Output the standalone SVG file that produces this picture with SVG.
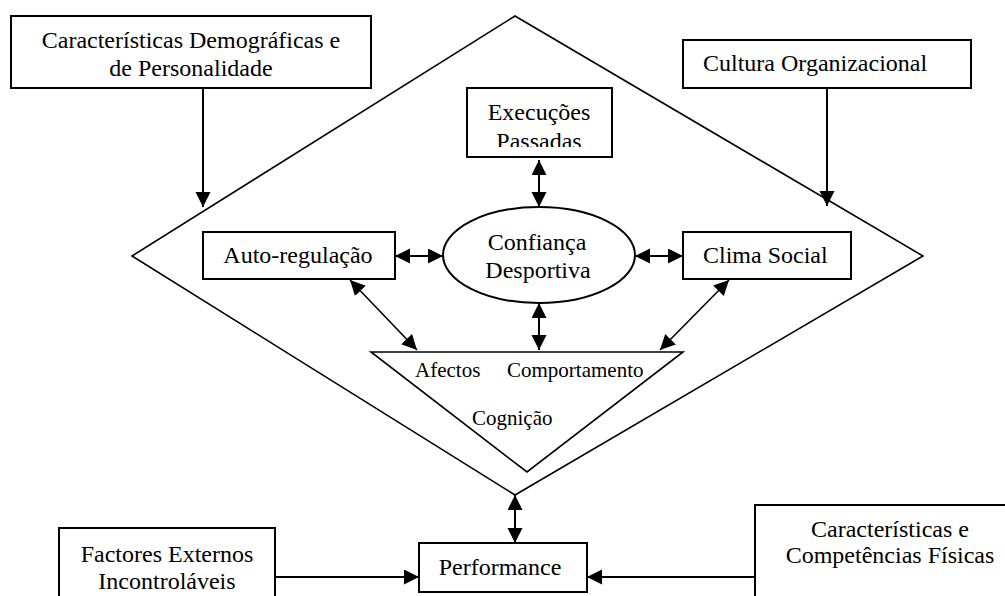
<svg xmlns="http://www.w3.org/2000/svg" width="1005" height="596" viewBox="0 0 1005 596">
<style>
.box{fill:#fff;stroke:#000;stroke-width:2}
.shape{fill:none;stroke:#000;stroke-width:1.6}
.t{font-family:"Liberation Serif","Times New Roman",serif;font-size:24px;fill:#000}
.s{font-family:"Liberation Serif","Times New Roman",serif;font-size:21px;fill:#000}
.c{text-anchor:middle}
.ln{fill:none;stroke:#000;stroke-width:2}
.ld{fill:none;stroke:#000;stroke-width:1.6}
</style>
<defs>
<marker id="ah" markerUnits="userSpaceOnUse" markerWidth="16" markerHeight="16" refX="15" refY="7.5" orient="auto-start-reverse" viewBox="0 0 16 16">
<path d="M0,0 L15,7.5 L0,15 z" fill="#000"/>
</marker>
<clipPath id="execClip"><rect x="467" y="88" width="145" height="59"/></clipPath>
</defs>
<rect width="1005" height="596" fill="#fff"/>
<g id="diamond"><polygon class="shape" points="515,16 923,256 515,495 132,256"/></g>
<g id="n-demograficas">
<rect class="box" x="11" y="16" width="360" height="72"/>
<text class="t c" x="191" y="48">Características Demográficas e</text>
<text class="t c" x="191" y="76">de Personalidade</text>
</g>
<g id="n-cultura">
<rect class="box" x="683" y="40" width="288" height="48"/>
<text class="t" x="703" y="71">Cultura Organizacional</text>
</g>
<g id="n-execucoes">
<rect class="box" x="467" y="88" width="145" height="69"/>
<g clip-path="url(#execClip)">
<text class="t c" x="539" y="120">Execuções</text>
<text class="t c" x="539" y="149">Passadas</text>
</g>
</g>
<g id="n-autoregulacao">
<rect class="box" x="203" y="232" width="192" height="47"/>
<text class="t c" x="298" y="263">Auto-regulação</text>
</g>
<g id="n-confianca">
<ellipse class="box" cx="539" cy="255" rx="96" ry="48"/>
<text class="t c" x="537" y="250">Confiança</text>
<text class="t c" x="538" y="278">Desportiva</text>
</g>
<g id="n-clima">
<rect class="box" x="683" y="232" width="168" height="47"/>
<text class="t" x="703" y="263">Clima Social</text>
</g>
<g id="n-triangulo">
<polygon class="shape" points="371,352 683,352 527,472"/>
<text class="s" x="415" y="377">Afectos</text>
<text class="s" x="507" y="377">Comportamento</text>
<text class="s" x="472" y="425">Cognição</text>
</g>
<g id="n-performance">
<rect class="box" x="419" y="543" width="168" height="49"/>
<text class="t c" x="500" y="575">Performance</text>
</g>
<g id="n-factores">
<rect class="box" x="59" y="528" width="216" height="100"/>
<text class="t c" x="167" y="562">Factores Externos</text>
<text class="t c" x="167" y="589">Incontroláveis</text>
</g>
<g id="n-fisicas">
<rect class="box" x="755" y="505" width="270" height="120"/>
<text class="t c" x="890" y="537">Características e</text>
<text class="t c" x="890" y="563">Competências Físicas</text>
</g>
<g id="connectors">
<line class="ln" x1="203" y1="88" x2="203" y2="207" marker-end="url(#ah)"/>
<line class="ln" x1="827" y1="88" x2="827" y2="206" marker-end="url(#ah)"/>
<line class="ln" x1="539" y1="160" x2="539" y2="207" marker-start="url(#ah)" marker-end="url(#ah)"/>
<line class="ln" x1="395" y1="256" x2="443" y2="256" marker-start="url(#ah)" marker-end="url(#ah)"/>
<line class="ln" x1="635" y1="256" x2="683" y2="256" marker-start="url(#ah)" marker-end="url(#ah)"/>
<line class="ln" x1="539" y1="303" x2="539" y2="350" marker-start="url(#ah)" marker-end="url(#ah)"/>
<line class="ld" x1="350" y1="280" x2="417" y2="350" marker-start="url(#ah)" marker-end="url(#ah)"/>
<line class="ld" x1="729" y1="280" x2="660" y2="350" marker-start="url(#ah)" marker-end="url(#ah)"/>
<line class="ln" x1="515" y1="495" x2="515" y2="543" marker-start="url(#ah)" marker-end="url(#ah)"/>
<line class="ln" x1="275" y1="577" x2="419" y2="577" marker-end="url(#ah)"/>
<line class="ln" x1="755" y1="577" x2="587" y2="577" marker-end="url(#ah)"/>
</g>
</svg>
